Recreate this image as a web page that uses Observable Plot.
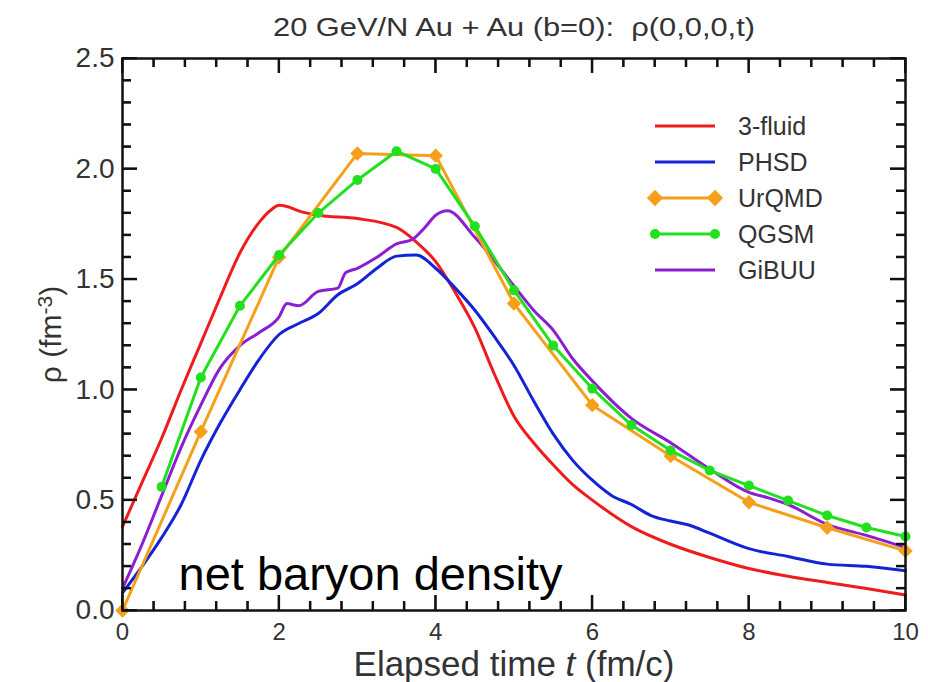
<!DOCTYPE html>
<html><head><meta charset="utf-8">
<script src="https://cdn.jsdelivr.net/npm/d3@7"></script>
<script src="https://cdn.jsdelivr.net/npm/@observablehq/plot@0.6"></script>
<style>
body{margin:0;background:#fff}
svg{font-family:"Liberation Sans",Arial,Helvetica,sans-serif}
</style>
</head><body><div id="chart"></div>
<script>
const chartTitle = "20 GeV/N Au + Au (b=0):  ρ(0,0,0,t)";
const annotation = "net baryon density";
const seriesNames = ["3-fluid", "PHSD", "UrQMD", "QGSM", "GiBUU"];
const seriesColors = ["#ee1c1c", "#1424d4", "#f5a01a", "#22e01e", "#8c1ed2"];

const tFluid   = [0, 0.25, 0.5, 0.75, 1.0, 1.25, 1.5, 1.75, 1.9, 2.0, 2.1, 2.25, 2.5, 3.0, 3.5, 3.75, 4.0, 4.25, 4.5, 4.75, 5.0, 5.25, 5.5, 5.75, 6.0, 6.5, 7.0, 7.5, 8.0, 8.5, 9.0, 9.5, 10];
const rhoFluid = [0.38, 0.58, 0.78, 1.0, 1.21, 1.42, 1.62, 1.76, 1.815, 1.835, 1.83, 1.81, 1.79, 1.775, 1.735, 1.67, 1.58, 1.44, 1.28, 1.07, 0.88, 0.76, 0.66, 0.57, 0.50, 0.38, 0.30, 0.24, 0.19, 0.155, 0.127, 0.10, 0.07];

const tPHSD   = [0, 0.25, 0.5, 0.75, 1.0, 1.25, 1.5, 1.75, 2.0, 2.25, 2.5, 2.75, 3.0, 3.25, 3.5, 3.75, 4.0, 4.25, 4.5, 4.75, 5.0, 5.25, 5.5, 5.75, 6.0, 6.25, 6.5, 6.75, 7.0, 7.25, 7.5, 8.0, 8.5, 9.0, 9.5, 10];
const rhoPHSD = [0.08, 0.2, 0.33, 0.48, 0.68, 0.85, 1.0, 1.14, 1.25, 1.3, 1.345, 1.43, 1.48, 1.55, 1.605, 1.61, 1.55, 1.46, 1.36, 1.24, 1.11, 0.95, 0.80, 0.68, 0.59, 0.52, 0.48, 0.43, 0.405, 0.385, 0.35, 0.28, 0.245, 0.21, 0.2, 0.18];

const tUrQMD   = [0, 1, 2, 3, 4, 5, 6, 7, 8, 9, 10];
const rhoUrQMD = [0.0, 0.81, 1.60, 2.07, 2.06, 1.39, 0.93, 0.70, 0.49, 0.375, 0.27];

const tQGSM   = [0.5, 1.0, 1.5, 2.0, 2.5, 3.0, 3.5, 4.0, 4.5, 5.0, 5.5, 6.0, 6.5, 7.0, 7.5, 8.0, 8.5, 9.0, 9.5, 10];
const rhoQGSM = [0.56, 1.055, 1.38, 1.61, 1.80, 1.95, 2.08, 2.0, 1.74, 1.45, 1.2, 1.005, 0.84, 0.725, 0.634, 0.566, 0.498, 0.43, 0.376, 0.335];

const tGiBUU   = [0, 0.25, 0.5, 0.75, 1.0, 1.25, 1.5, 1.75, 2.0, 2.1, 2.25, 2.5, 2.75, 2.85, 3.0, 3.25, 3.5, 3.7, 3.85, 4.0, 4.15, 4.5, 5.0, 5.25, 5.5, 5.75, 6.0, 6.5, 7.0, 7.5, 8.0, 8.25, 8.5, 9.0, 9.5, 10];
const rhoGiBUU = [0.1, 0.3, 0.52, 0.74, 0.93, 1.1, 1.2, 1.26, 1.33, 1.39, 1.38, 1.445, 1.46, 1.53, 1.55, 1.6, 1.66, 1.68, 1.73, 1.79, 1.81, 1.69, 1.47, 1.36, 1.27, 1.14, 1.04, 0.87, 0.76, 0.64, 0.535, 0.51, 0.48, 0.39, 0.34, 0.285];

const xMajorTicks = [0, 2, 4, 6, 8, 10];
const yMajorTicks = [0, 0.5, 1.0, 1.5, 2.0, 2.5];
const xMinorTicks = d3.range(0, 26).filter(i => i % 5 !== 0).map(i => i * 0.4);
const yMinorTicks = d3.range(0, 26).filter(i => i % 5 !== 0).map(i => i / 10);

const seriesT = [tFluid, tPHSD, tUrQMD, tQGSM, tGiBUU];
const seriesRho = [rhoFluid, rhoPHSD, rhoUrQMD, rhoQGSM, rhoGiBUU];
const rows = seriesNames.flatMap((s, k) => seriesT[k].map((t, i) => ({series: s, t, rho: seriesRho[k][i]})));
const smoothRows = rows.filter(d => d.series === "3-fluid" || d.series === "PHSD" || d.series === "GiBUU");
const urqmdRows = rows.filter(d => d.series === "UrQMD");
const qgsmRows = rows.filter(d => d.series === "QGSM");

const W = 928, H = 682, ML = 122, MR = 23, MT = 58, MB = 72;
const FW = W - ML - MR, FH = H - MT - MB;
const X_MAX = 10, Y_MAX = 2.5;
const MAJ = 15, MIN = 9;
// tick lengths converted to data units along each axis
const xLen = px => X_MAX * px / FW;
const yLen = px => Y_MAX * px / FH;
const ruleStyle = {stroke: "#111", strokeWidth: 2};

const plot = Plot.plot({
  width: W,
  height: H,
  marginLeft: ML,
  marginRight: MR,
  marginTop: MT,
  marginBottom: MB,
  x: {domain: [0, X_MAX]},
  y: {domain: [0, Y_MAX]},
  color: {domain: seriesNames, range: seriesColors},
  marks: [
    Plot.line(smoothRows, {x: "t", y: "rho", z: "series", stroke: "series", strokeWidth: 3, curve: "monotone-x"}),
    Plot.line(urqmdRows, {x: "t", y: "rho", stroke: "series", strokeWidth: 3}),
    Plot.dot(urqmdRows, {x: "t", y: "rho", symbol: "diamond2", r: 6.5, fill: "series", stroke: null}),
    Plot.line(qgsmRows, {x: "t", y: "rho", stroke: "series", strokeWidth: 3}),
    Plot.dot(qgsmRows, {x: "t", y: "rho", r: 5, fill: "series", stroke: null}),
    // inward tick marks (bottom, top, left, right)
    Plot.ruleX(xMajorTicks, {...ruleStyle, x: d => d, y1: 0, y2: yLen(MAJ)}),
    Plot.ruleX(xMinorTicks, {...ruleStyle, x: d => d, y1: 0, y2: yLen(MIN)}),
    Plot.ruleX(xMajorTicks, {...ruleStyle, x: d => d, y1: Y_MAX, y2: Y_MAX - yLen(MAJ)}),
    Plot.ruleX(xMinorTicks, {...ruleStyle, x: d => d, y1: Y_MAX, y2: Y_MAX - yLen(MIN)}),
    Plot.ruleY(yMajorTicks, {...ruleStyle, y: d => d, x1: 0, x2: xLen(MAJ)}),
    Plot.ruleY(yMinorTicks, {...ruleStyle, y: d => d, x1: 0, x2: xLen(MIN)}),
    Plot.ruleY(yMajorTicks, {...ruleStyle, y: d => d, x1: X_MAX, x2: X_MAX - xLen(MAJ)}),
    Plot.ruleY(yMinorTicks, {...ruleStyle, y: d => d, x1: X_MAX, x2: X_MAX - xLen(MIN)}),
    Plot.frame({stroke: "#111", strokeWidth: 2.5}),
    Plot.axisX({anchor: "bottom", ticks: xMajorTicks, tickSize: 0, tickPadding: 12, fontSize: 24, fill: "#333", label: null, tickFormat: d3.format("d")}),
    Plot.axisY({anchor: "left", ticks: yMajorTicks, tickSize: 0, tickPadding: 8, fontSize: 28, fill: "#333", label: null, tickFormat: d3.format(".1f")}),
    Plot.text([chartTitle], {frameAnchor: "top", textAnchor: "middle", lineAnchor: "middle", dy: -31, fontSize: 26, fill: "#333", className: "ttl"}),
    Plot.text([annotation], {frameAnchor: "bottom-left", dx: 56, dy: -36, textAnchor: "start", lineAnchor: "middle", fontSize: 47, fill: "#000"}),
    Plot.text(["Elapsed time t (fm/c)"], {frameAnchor: "bottom", textAnchor: "middle", lineAnchor: "middle", dy: 54, fontSize: 35, fill: "#333", className: "xlab"}),
    Plot.text(["ρ (fm-3)"], {frameAnchor: "left", textAnchor: "middle", lineAnchor: "middle", dx: -71, rotate: -90, fontSize: 30, fill: "#333", className: "ylab"})
  ]
});

const svg = d3.select(plot);
const xs = plot.scale("x"), ys = plot.scale("y");
const xPix = v => { const p = xs && xs.apply ? +xs.apply(v) : NaN; return isFinite(p) ? p : ML + FW * v / X_MAX; };
const yPix = v => { const p = ys && ys.apply ? +ys.apply(v) : NaN; return isFinite(p) ? p : MT + FH * (1 - v / Y_MAX); };
const frameLeft = ML, frameRight = W - MR, frameTop = MT, frameBottom = H - MB;

// same inward ticks again as plain SVG lines (coincident with the rules above)
const tg = svg.append("g").attr("class", "inward-ticks");
const addTick = (x1, y1, x2, y2) => tg.append("line")
  .attr("x1", x1).attr("y1", y1).attr("x2", x2).attr("y2", y2)
  .attr("stroke", "#111").attr("stroke-width", 2);
[[xMajorTicks, MAJ], [xMinorTicks, MIN]].forEach(([vals, len]) => vals.forEach(v => {
  const px = xPix(v);
  addTick(px, frameBottom, px, frameBottom - len);
  addTick(px, frameTop, px, frameTop + len);
}));
[[yMajorTicks, MAJ], [yMinorTicks, MIN]].forEach(([vals, len]) => vals.forEach(v => {
  const py = yPix(v);
  addTick(frameLeft, py, frameLeft + len, py);
  addTick(frameRight, py, frameRight - len, py);
}));

// title: the reference title is set wide
svg.select(".ttl text").attr("textLength", 482).attr("lengthAdjust", "spacingAndGlyphs");
// italic t in x label
const xt = svg.select(".xlab text");
xt.text(null);
xt.append("tspan").text("Elapsed time ");
xt.append("tspan").attr("font-style", "italic").text("t");
xt.append("tspan").text(" (fm/c)");
// superscript in y label
const yt = svg.select(".ylab text");
yt.text(null);
yt.append("tspan").text("ρ (fm");
yt.append("tspan").attr("dy", "-0.45em").attr("font-size", "0.7em").text("-3");
yt.append("tspan").attr("dy", "0.315em").text(")");

// legend
const legendG = svg.append("g").attr("class", "legend").attr("text-anchor", "start");
seriesNames.forEach((sName, i) => {
  const ly = 126 + 36 * i;
  const g = legendG.append("g").attr("transform", `translate(0,${ly})`);
  g.append("line").attr("x1", 655).attr("x2", 715).attr("stroke", seriesColors[i]).attr("stroke-width", 3);
  if (sName === "UrQMD") {
    [655, 715].forEach(lx => g.append("path").attr("d", d3.symbol(d3.symbolDiamond2, 170)()).attr("transform", `translate(${lx},0)`).attr("fill", seriesColors[i]));
  }
  if (sName === "QGSM") {
    [655, 715].forEach(lx => g.append("circle").attr("cx", lx).attr("r", 5).attr("fill", seriesColors[i]));
  }
  g.append("text").attr("x", 738).attr("dy", "0.35em").attr("font-size", 25).attr("fill", "#333").attr("text-anchor", "start").text(sName);
});

document.getElementById("chart").appendChild(plot);
</script>
</body></html>
